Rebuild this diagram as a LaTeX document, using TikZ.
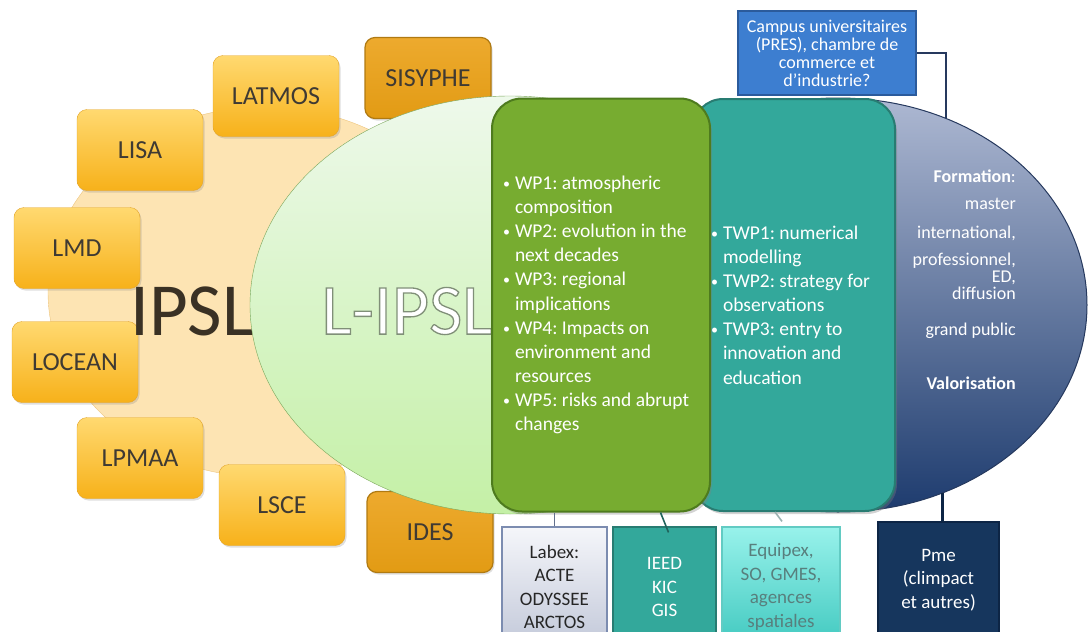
\documentclass[tikz,border=0pt]{standalone}
\usepackage{fontspec}
\setmainfont{Carlito}
\usetikzlibrary{shapes.geometric,shadows}
\definecolor{ipslfill}{HTML}{FDE4B3}
\definecolor{ipslline}{HTML}{EDC57E}
\definecolor{ipsltext}{HTML}{3A3124}
\definecolor{labtop}{HTML}{FFD970}
\definecolor{labbot}{HTML}{F7B11A}
\definecolor{labline}{HTML}{E3A52C}
\definecolor{labtext}{HTML}{3F3A33}
\definecolor{parttop}{HTML}{EDAA2E}
\definecolor{partbot}{HTML}{E29B14}
\definecolor{partline}{HTML}{B07A12}
\definecolor{lipsltop}{HTML}{EEF9EB}
\definecolor{lipslbot}{HTML}{C4F0A6}
\definecolor{lipslline}{HTML}{7AA65A}
\definecolor{wpfill}{HTML}{77AC30}
\definecolor{wpline}{HTML}{4E7B1E}
\definecolor{twpfill}{HTML}{33A89B}
\definecolor{twpline}{HTML}{287C72}
\definecolor{valotop}{HTML}{ADB8D2}
\definecolor{valobot}{HTML}{1D3B6E}
\definecolor{valoline}{HTML}{26395E}
\definecolor{campusfill}{HTML}{3D7ED0}
\definecolor{campusline}{HTML}{2B5B9C}
\definecolor{pmefill}{HTML}{16365D}
\definecolor{pmeline}{HTML}{0D2545}
\definecolor{labextop}{HTML}{F5F6FA}
\definecolor{labexbot}{HTML}{C2C8D9}
\definecolor{labexline}{HTML}{7C8CB0}
\definecolor{eqtop}{HTML}{98F2EB}
\definecolor{eqbot}{HTML}{40C8BF}
\definecolor{eqline}{HTML}{62CBC3}
\definecolor{eqtext}{HTML}{587F7D}
\newcommand\wpdot{\makebox[12pt][l]{\raisebox{1pt}{\fontsize{14}{14}\selectfont\textbullet}}}
\newcommand\wpgap{\hspace*{12pt}}
\newcommand\outlined[1]{\special{pdf:literal direct q 2 Tr 1.3 w 0.5 0.56 0.47 RG}#1\special{pdf:literal direct Q}}
\begin{document}
\begin{tikzpicture}[x=1pt,y=-1pt,
    lab/.style={draw=labline,top color=labtop,bottom color=labbot,rounded corners=10pt,
      minimum width=126pt,minimum height=81pt,inner sep=0pt,text=labtext,
      font=\fontsize{26}{30}\selectfont,
      drop shadow={shadow xshift=1.5pt,shadow yshift=-2pt,opacity=.25}},
    partner/.style={lab,draw=partline,line width=1.2pt,top color=parttop,bottom color=partbot},
    blob/.style={ellipse,inner sep=0pt},
    wpbox/.style={rounded corners=30pt,line width=2pt,inner ysep=0pt,align=flush left,text=white,
      font={\fontsize{19.5}{24.1}\selectfont\lineskiplimit=-50pt\frenchspacing},
      drop shadow={shadow xshift=2pt,shadow yshift=-3pt,opacity=.35}},
    infobox/.style={minimum height=120pt,inner sep=0pt,align=center,line width=1.2pt,
      font={\fontsize{19}{23.6}\selectfont\lineskiplimit=-50pt}},
    link/.style={line width=1.6pt}]
  \useasboundingbox (0,0) rectangle (1088,632);
  \node[blob,minimum width=498pt,minimum height=414pt,draw=valoline,line width=1pt,
    top color=valotop,bottom color=valobot] (valo) at (838,305) {};
  \node[blob,minimum width=434pt,minimum height=370pt,fill=ipslfill,draw=ipslline] (ipsl) at (265,292) {};
  \foreach \labo/\x/\y in {LATMOS/276/96,LISA/140/150,LMD/77/248,LOCEAN/75/362,LPMAA/140/458,LSCE/282/505}
    \node[lab] (\labo) at (\x,\y) {\labo};
  \foreach \labo/\x/\y in {SISYPHE/428/78,IDES/430/532}
    \node[partner] (\labo) at (\x,\y) {\labo};
  \node[text=ipsltext,font=\fontsize{75}{80}\selectfont] (ipsltxt) at (192,311) {IPSL};
  \node[blob,minimum width=520pt,minimum height=418pt,draw=lipslline,
    top color=lipsltop,bottom color=lipslbot] (lipsl) at (510,305) {};
  \node[text=white,font=\fontsize{72}{80}\selectfont] (lipsltxt) at (407,311) {\outlined{L-IPSL}};
  \node[wpbox,fill=twpfill,draw=twpline,minimum width=202pt,minimum height=412pt,
    inner xsep=18pt,text width=166pt] (twp) at (794,305)
    {\wpdot TWP1: numerical\\\wpgap modelling\\\wpdot TWP2: strategy for\\\wpgap observations\\
     \wpdot TWP3: entry to\\\wpgap innovation and\\\wpgap education};
  \node[wpbox,fill=wpfill,draw=wpline,minimum width=218pt,minimum height=413pt,
    inner xsep=11pt,text width=196pt] (wp) at (601,305)
    {\wpdot WP1: atmospheric\\\wpgap composition\\\wpdot WP2: evolution in the\\\wpgap next decades\\
     \wpdot WP3: regional\\\wpgap implications\\\wpdot WP4: Impacts on\\\wpgap environment and\\
     \wpgap resources\\\wpdot WP5: risks and abrupt\\\wpgap changes};
  \node[text=white,align=right,anchor=north east,inner sep=0pt,
    font={\fontsize{18}{15}\selectfont\lineskiplimit=-50pt}] (formtxt) at (1016,170)
    {\textbf{Formation}:\\[12pt]master\\[14pt]international,\\[12pt]professionnel,\\[2pt]ED,\\[2pt]diffusion\\[21pt]
     grand public\\[39pt]\textbf{Valorisation}};
  \node[fill=campusfill,draw=campusline,line width=1.5pt,minimum width=178pt,minimum height=84pt,
    inner sep=0pt,align=center,text=white,font={\fontsize{18}{18}\selectfont\lineskiplimit=-50pt}] (campus)
    at (827,53) {Campus universitaires\\(PRES), chambre de\\commerce et\\d’industrie?};
  \node[infobox,top color=labextop,bottom color=labexbot,draw=labexline,minimum width=105pt,text=black!85]
    (labex) at (554.5,587) {Labex:\\ACTE\\ODYSSEE\\ARCTOS};
  \node[infobox,fill=twpfill,draw=twpline,minimum width=103pt,text=white] (ieed) at (664.5,587) {IEED\\KIC\\GIS};
  \node[infobox,top color=eqtop,bottom color=eqbot,draw=eqline,minimum width=118pt,text=eqtext]
    (equipex) at (781,587) {Equipex,\\SO, GMES,\\agences\\spatiales};
  \node[infobox,fill=pmefill,draw=pmeline,minimum width=121pt,minimum height=116pt,text=white]
    (pme) at (938.5,580) {Pme\\(climpact\\et autres)};
  \draw[link,draw=valoline] (campus.east) -| (valo.60);
  \draw[link,draw=labexline!80!black] (labex.north |- wp.south) -- (labex.north);
  \draw[link,draw=twpline!80!black] ([xshift=-4pt]ieed.north |- wp.south) -- ([xshift=4pt,yshift=-6pt]ieed.north);
  \draw[link,draw=eqtext!60] ([xshift=-6pt]equipex.north |- twp.south) -- ([xshift=1pt,yshift=5pt]equipex.north);
  \draw[link,draw=pmeline,line width=2.2pt] (valo.-61) -- (valo.-61 |- pme.north);
\end{tikzpicture}
\end{document}
